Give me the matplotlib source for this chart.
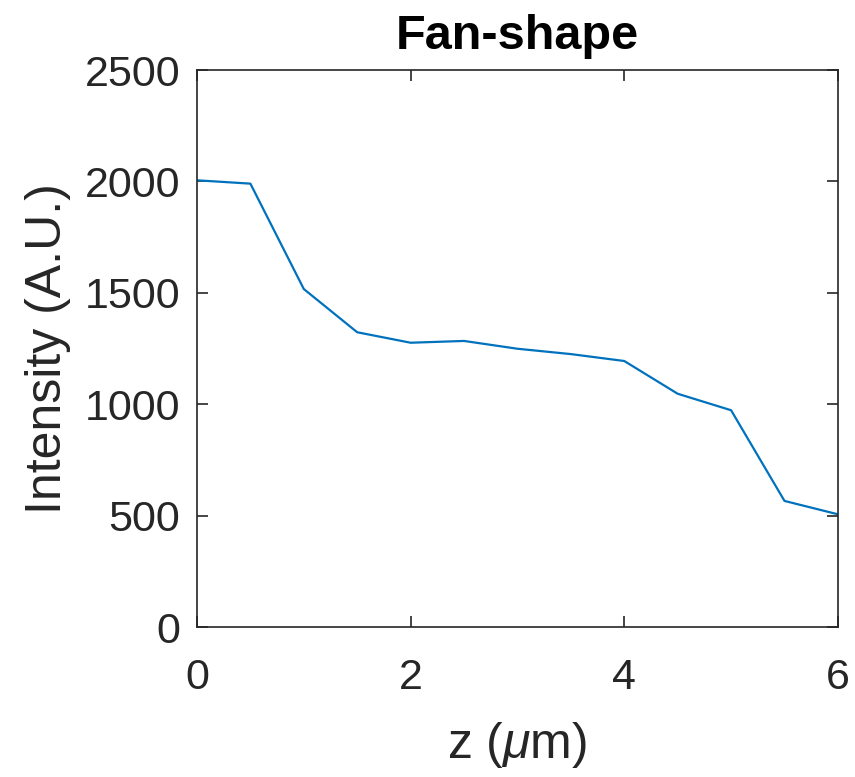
import matplotlib
matplotlib.use("Agg")
import matplotlib.pyplot as plt

# intensity profile along z
z_um      = [0, 0.5, 1, 1.5, 2, 2.5, 3, 3.5, 4, 4.5, 5, 5.5, 6]
intensity = [2005, 1990, 1517, 1323, 1276, 1284, 1249, 1225, 1194, 1047, 973, 566, 506]
x_ticks   = [0, 2, 4, 6]
y_ticks   = [0, 500, 1000, 1500, 2000, 2500]

plt.rcParams["font.family"] = ["Liberation Sans", "DejaVu Sans"]
plt.rcParams["mathtext.fontset"] = "custom"
plt.rcParams["mathtext.it"] = "Liberation Sans:italic"

axc = "#262626"

fig = plt.figure(figsize=(8.55, 7.77), dpi=100)
ax = fig.add_axes([0.2304, 0.193, 0.7496, 0.7169])

ax.plot(z_um, intensity, color="#0072BD", lw=1.6)

ax.set_xlim(0, 6)
ax.set_ylim(0, 2500)
ax.set_xticks(x_ticks)
ax.set_yticks(y_ticks)
ax.tick_params(direction="in", length=8, width=1.2, colors=axc,
               labelsize=31, top=True, right=True)
ax.tick_params(axis="x", pad=22)
ax.tick_params(axis="y", pad=12)
for sp in ax.spines.values():
    sp.set_color(axc)
    sp.set_linewidth(1.2)

ax.set_xlabel(r"z ($\mu$m)", fontsize=36, color=axc, labelpad=16)
ax.set_ylabel("Intensity (A.U.)", fontsize=36, color=axc, labelpad=10)
ax.set_title("Fan-shape", fontsize=35, fontweight="bold", pad=15)

fig.savefig("out.png", dpi=100)
